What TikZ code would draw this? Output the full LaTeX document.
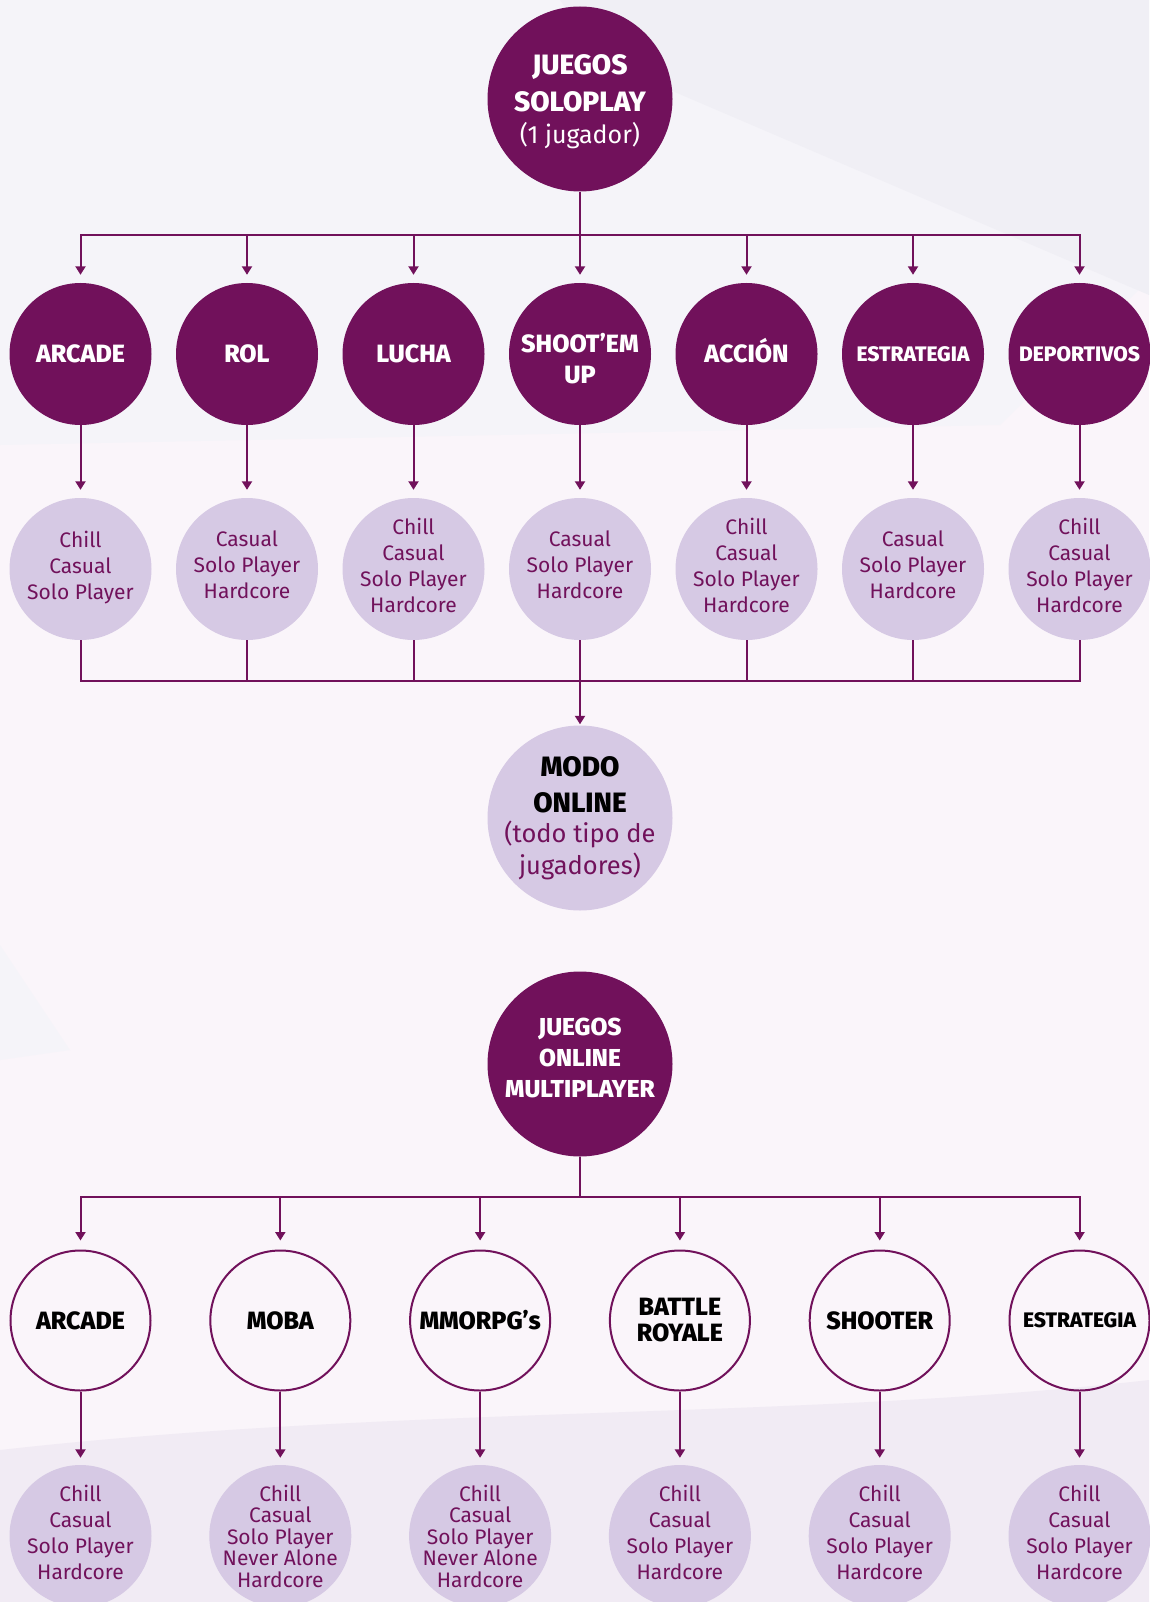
\documentclass[tikz,border=0pt]{standalone}
\usepackage{fontspec}
\setmainfont{Fira Sans}[BoldFont={Fira Sans ExtraBold}]
\usetikzlibrary{arrows.meta}

\definecolor{morado}{RGB}{113,17,91}
\definecolor{lila}{RGB}{214,201,228}
\definecolor{fondo}{RGB}{250,245,250}
\definecolor{fondogris}{RGB}{245,244,249}
\definecolor{fondogris2}{RGB}{240,239,245}
\definecolor{fondolila}{RGB}{241,235,244}

% lleva el texto un poco hacia arriba
\newcommand{\subir}{\\[-18pt]\mbox{}}

\tikzset{
  juego/.style={circle,fill=morado,text=white,minimum size=142pt,inner sep=0pt,
    align=center,font=\bfseries\fontsize{25}{29}\selectfont},
  tipo/.style={circle,fill=lila,text=morado,minimum size=142pt,inner sep=-10pt,
    align=center,font=\fontsize{21}{26}\selectfont},
  online/.style={circle,draw=morado,line width=2pt,minimum size=140pt,inner sep=0pt,
    align=center,font=\bfseries\fontsize{25}{26}\selectfont},
  grande/.style={minimum size=185pt},
  pequeno/.style={font=\bfseries\fontsize{21}{26}\selectfont},
  apretado/.style={font=\fontsize{21}{21.5}\selectfont},
  linea/.style={morado,line width=2pt},
  flecha/.style={linea,-{Triangle[width=10pt,length=8.5pt]},shorten >=8pt},
}

\begin{document}
\begin{tikzpicture}[x=1pt,y=-1pt]
  % fondo
  \fill[fondo] (0,0) rectangle (1149,1602);
  \fill[fondogris] (0,0) -- (1149,0) -- (1149,280) -- (1000,425) -- (0,445) -- cycle;
  \fill[fondogris2] (600,60) -- (1149,295) -- (1149,0) -- (560,0) -- cycle;
  \fill[fondogris] (0,945) -- (70,1050) -- (0,1060) -- cycle;
  \fill[fondolila] (0,1450) .. controls (400,1405) and (800,1420) .. (1149,1380)
    -- (1149,1602) -- (0,1602) -- cycle;
  \useasboundingbox (0,0) rectangle (1149,1602);

  % juegos soloplay
  \node[juego,grande,font=\bfseries\fontsize{28}{37}\selectfont] (solo) at (580,99)
    {\mbox{}\\[-11.5pt]JUEGOS\\SOLOPLAY\\[-5pt]{\mdseries\fontsize{25}{30}\selectfont (1 jugador)}};

  \node[juego] (arcade) at (80.5,354) {ARCADE};
  \node[juego] (rol) at (247,354) {ROL};
  \node[juego] (lucha) at (413.5,354) {LUCHA};
  \node[juego,font=\bfseries\fontsize{25}{31}\selectfont] (shmup) at (580,354) {\mbox{}\\[-2pt]SHOOT’EM\\UP};
  \node[juego] (accion) at (746.5,354) {ACCI\smash{Ó}N};
  \node[juego,pequeno] (estrategia) at (913,354) {ESTRATEGIA};
  \node[juego,pequeno] (deportivos) at (1079.5,354) {DEPORTIVOS};

  \node[tipo] (tarcade) at (80.5,569) {Chill\\Casual\\Solo Player\subir};
  \node[tipo] (trol) at (247,569) {Casual\\Solo Player\\Hardcore\subir};
  \node[tipo] (tlucha) at (413.5,569) {Chill\\Casual\\Solo Player\\Hardcore\subir};
  \node[tipo] (tshmup) at (580,569) {Casual\\Solo Player\\Hardcore\subir};
  \node[tipo] (taccion) at (746.5,569) {Chill\\Casual\\Solo Player\\Hardcore\subir};
  \node[tipo] (testrategia) at (913,569) {Casual\\Solo Player\\Hardcore\subir};
  \node[tipo] (tdeportivos) at (1079.5,569) {Chill\\Casual\\Solo Player\\Hardcore\subir};

  \node[tipo,grande,font=\bfseries\fontsize{28}{36}\selectfont,text=black] (modo) at (580,818)
    {MODO\\ONLINE\\[-6pt]{\mdseries\color{morado}\fontsize{25.5}{28}\selectfont (todo tipo de}\\[-4pt]
     {\mdseries\color{morado}\fontsize{25.5}{28}\selectfont jugadores)}};

  \coordinate (barra1) at (580,235);
  \coordinate (barra2) at (580,681);
  \draw[linea] (solo) -- (barra1);
  \draw[linea,line cap=rect] (barra1 -| arcade) -- (barra1 -| deportivos);
  \foreach \g in {arcade,rol,lucha,shmup,accion,estrategia,deportivos}{
    \draw[flecha] (barra1 -| \g) -- (\g);
    \draw[flecha] (\g) -- (t\g);
  }
  \foreach \g in {rol,lucha,shmup,accion,estrategia}
    \draw[linea] (t\g) -- (barra2 -| t\g);
  \draw[linea] (tarcade) -- (barra2 -| tarcade) -- (barra2 -| tdeportivos) -- (tdeportivos);
  \draw[flecha,shorten >=1pt] (barra2) -- (modo);

  % juegos online multiplayer
  \node[juego,grande,font=\bfseries\fontsize{24.5}{31}\selectfont] (multi) at (580,1064)
    {JUEGOS\\ONLINE\\MULTIPLAYER\\[-19pt]\mbox{}};

  \node[online] (oarcade) at (80.5,1320.5) {ARCADE};
  \node[online] (moba) at (280.3,1320.5) {MOBA};
  \node[online] (mmorpg) at (480.1,1320.5) {MMORPG’s};
  \node[online] (battle) at (679.9,1320.5) {BATTLE\\ROYALE};
  \node[online] (shooter) at (879.7,1320.5) {SHOOTER};
  \node[online,pequeno] (oestrategia) at (1079.5,1320.5) {ESTRATEGIA};

  \node[tipo] (toarcade) at (80.5,1536) {Chill\\Casual\\Solo Player\\Hardcore\subir};
  \node[tipo,apretado] (tmoba) at (280.3,1536) {Chill\\Casual\\Solo Player\\Never Alone\\Hardcore};
  \node[tipo,apretado] (tmmorpg) at (480.1,1536) {Chill\\Casual\\Solo Player\\Never Alone\\Hardcore};
  \node[tipo] (tbattle) at (679.9,1536) {Chill\\Casual\\Solo Player\\Hardcore\subir};
  \node[tipo] (tshooter) at (879.7,1536) {Chill\\Casual\\Solo Player\\Hardcore\subir};
  \node[tipo] (toestrategia) at (1079.5,1536) {Chill\\Casual\\Solo Player\\Hardcore\subir};

  \coordinate (barra3) at (580,1197);
  \draw[linea] (multi) -- (barra3);
  \draw[linea,line cap=rect] (barra3 -| oarcade) -- (barra3 -| oestrategia);
  \foreach \g in {oarcade,moba,mmorpg,battle,shooter,oestrategia}{
    \draw[flecha,shorten >=9pt] (barra3 -| \g) -- (\g);
    \draw[flecha,shorten >=7pt] (\g) -- (t\g);
  }
\end{tikzpicture}
\end{document}
